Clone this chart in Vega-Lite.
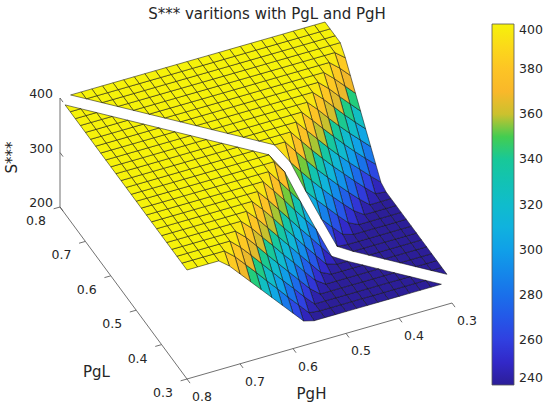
{
  "$schema": "https://vega.github.io/schema/vega-lite/v6.json",
  "width": 550,
  "height": 385,
  "autosize": {"type": "none"},
  "padding": {"top": 24, "left": 0, "right": 0, "bottom": 0},
  "background": "white",
  "title": {
    "text": "S*** varitions with PgL and PgH",
    "font": "DejaVu Sans",
    "fontSize": 15,
    "fontWeight": "normal",
    "color": "#262626",
    "anchor": "middle",
    "dx": -8,
    "offset": 0
  },
  "datasets": {
    "grid": [
      {"PgH":0.3,"PgL":0.3,"S":null},{"PgH":0.32,"PgL":0.3,"S":240},{"PgH":0.34,"PgL":0.3,"S":240},{"PgH":0.36,"PgL":0.3,"S":240},{"PgH":0.38,"PgL":0.3,"S":240},{"PgH":0.4,"PgL":0.3,"S":240},{"PgH":0.42,"PgL":0.3,"S":240},{"PgH":0.44,"PgL":0.3,"S":240},{"PgH":0.46,"PgL":0.3,"S":240},{"PgH":0.48,"PgL":0.3,"S":240},{"PgH":0.5,"PgL":0.3,"S":240},{"PgH":0.52,"PgL":0.3,"S":240},{"PgH":0.54,"PgL":0.3,"S":240},{"PgH":0.56,"PgL":0.3,"S":240},{"PgH":0.58,"PgL":0.3,"S":245},{"PgH":0.6,"PgL":0.3,"S":265},{"PgH":0.62,"PgL":0.3,"S":285},{"PgH":0.64,"PgL":0.3,"S":305},{"PgH":0.66,"PgL":0.3,"S":325},{"PgH":0.68,"PgL":0.3,"S":345},{"PgH":0.7,"PgL":0.3,"S":365},{"PgH":0.72,"PgL":0.3,"S":385},{"PgH":0.74,"PgL":0.3,"S":400},{"PgH":0.76,"PgL":0.3,"S":400},{"PgH":0.78,"PgL":0.3,"S":400},{"PgH":0.8,"PgL":0.3,"S":400},
      {"PgH":0.3,"PgL":0.32,"S":240},{"PgH":0.32,"PgL":0.32,"S":null},{"PgH":0.34,"PgL":0.32,"S":240},{"PgH":0.36,"PgL":0.32,"S":240},{"PgH":0.38,"PgL":0.32,"S":240},{"PgH":0.4,"PgL":0.32,"S":240},{"PgH":0.42,"PgL":0.32,"S":240},{"PgH":0.44,"PgL":0.32,"S":240},{"PgH":0.46,"PgL":0.32,"S":240},{"PgH":0.48,"PgL":0.32,"S":240},{"PgH":0.5,"PgL":0.32,"S":240},{"PgH":0.52,"PgL":0.32,"S":240},{"PgH":0.54,"PgL":0.32,"S":240},{"PgH":0.56,"PgL":0.32,"S":242},{"PgH":0.58,"PgL":0.32,"S":262},{"PgH":0.6,"PgL":0.32,"S":282},{"PgH":0.62,"PgL":0.32,"S":303},{"PgH":0.64,"PgL":0.32,"S":323},{"PgH":0.66,"PgL":0.32,"S":344},{"PgH":0.68,"PgL":0.32,"S":364},{"PgH":0.7,"PgL":0.32,"S":384},{"PgH":0.72,"PgL":0.32,"S":400},{"PgH":0.74,"PgL":0.32,"S":400},{"PgH":0.76,"PgL":0.32,"S":400},{"PgH":0.78,"PgL":0.32,"S":400},{"PgH":0.8,"PgL":0.32,"S":400},
      {"PgH":0.3,"PgL":0.34,"S":240},{"PgH":0.32,"PgL":0.34,"S":240},{"PgH":0.34,"PgL":0.34,"S":null},{"PgH":0.36,"PgL":0.34,"S":240},{"PgH":0.38,"PgL":0.34,"S":240},{"PgH":0.4,"PgL":0.34,"S":240},{"PgH":0.42,"PgL":0.34,"S":240},{"PgH":0.44,"PgL":0.34,"S":240},{"PgH":0.46,"PgL":0.34,"S":240},{"PgH":0.48,"PgL":0.34,"S":240},{"PgH":0.5,"PgL":0.34,"S":240},{"PgH":0.52,"PgL":0.34,"S":240},{"PgH":0.54,"PgL":0.34,"S":240},{"PgH":0.56,"PgL":0.34,"S":259},{"PgH":0.58,"PgL":0.34,"S":280},{"PgH":0.6,"PgL":0.34,"S":300},{"PgH":0.62,"PgL":0.34,"S":321},{"PgH":0.64,"PgL":0.34,"S":342},{"PgH":0.66,"PgL":0.34,"S":363},{"PgH":0.68,"PgL":0.34,"S":383},{"PgH":0.7,"PgL":0.34,"S":400},{"PgH":0.72,"PgL":0.34,"S":400},{"PgH":0.74,"PgL":0.34,"S":400},{"PgH":0.76,"PgL":0.34,"S":400},{"PgH":0.78,"PgL":0.34,"S":400},{"PgH":0.8,"PgL":0.34,"S":400},
      {"PgH":0.3,"PgL":0.36,"S":240},{"PgH":0.32,"PgL":0.36,"S":240},{"PgH":0.34,"PgL":0.36,"S":240},{"PgH":0.36,"PgL":0.36,"S":null},{"PgH":0.38,"PgL":0.36,"S":240},{"PgH":0.4,"PgL":0.36,"S":240},{"PgH":0.42,"PgL":0.36,"S":240},{"PgH":0.44,"PgL":0.36,"S":240},{"PgH":0.46,"PgL":0.36,"S":240},{"PgH":0.48,"PgL":0.36,"S":240},{"PgH":0.5,"PgL":0.36,"S":240},{"PgH":0.52,"PgL":0.36,"S":240},{"PgH":0.54,"PgL":0.36,"S":256},{"PgH":0.56,"PgL":0.36,"S":277},{"PgH":0.58,"PgL":0.36,"S":298},{"PgH":0.6,"PgL":0.36,"S":319},{"PgH":0.62,"PgL":0.36,"S":340},{"PgH":0.64,"PgL":0.36,"S":362},{"PgH":0.66,"PgL":0.36,"S":383},{"PgH":0.68,"PgL":0.36,"S":400},{"PgH":0.7,"PgL":0.36,"S":400},{"PgH":0.72,"PgL":0.36,"S":400},{"PgH":0.74,"PgL":0.36,"S":400},{"PgH":0.76,"PgL":0.36,"S":400},{"PgH":0.78,"PgL":0.36,"S":400},{"PgH":0.8,"PgL":0.36,"S":400},
      {"PgH":0.3,"PgL":0.38,"S":240},{"PgH":0.32,"PgL":0.38,"S":240},{"PgH":0.34,"PgL":0.38,"S":240},{"PgH":0.36,"PgL":0.38,"S":240},{"PgH":0.38,"PgL":0.38,"S":null},{"PgH":0.4,"PgL":0.38,"S":240},{"PgH":0.42,"PgL":0.38,"S":240},{"PgH":0.44,"PgL":0.38,"S":240},{"PgH":0.46,"PgL":0.38,"S":240},{"PgH":0.48,"PgL":0.38,"S":240},{"PgH":0.5,"PgL":0.38,"S":240},{"PgH":0.52,"PgL":0.38,"S":253},{"PgH":0.54,"PgL":0.38,"S":274},{"PgH":0.56,"PgL":0.38,"S":296},{"PgH":0.58,"PgL":0.38,"S":317},{"PgH":0.6,"PgL":0.38,"S":339},{"PgH":0.62,"PgL":0.38,"S":360},{"PgH":0.64,"PgL":0.38,"S":382},{"PgH":0.66,"PgL":0.38,"S":400},{"PgH":0.68,"PgL":0.38,"S":400},{"PgH":0.7,"PgL":0.38,"S":400},{"PgH":0.72,"PgL":0.38,"S":400},{"PgH":0.74,"PgL":0.38,"S":400},{"PgH":0.76,"PgL":0.38,"S":400},{"PgH":0.78,"PgL":0.38,"S":400},{"PgH":0.8,"PgL":0.38,"S":400},
      {"PgH":0.3,"PgL":0.4,"S":240},{"PgH":0.32,"PgL":0.4,"S":240},{"PgH":0.34,"PgL":0.4,"S":240},{"PgH":0.36,"PgL":0.4,"S":240},{"PgH":0.38,"PgL":0.4,"S":240},{"PgH":0.4,"PgL":0.4,"S":null},{"PgH":0.42,"PgL":0.4,"S":240},{"PgH":0.44,"PgL":0.4,"S":240},{"PgH":0.46,"PgL":0.4,"S":240},{"PgH":0.48,"PgL":0.4,"S":240},{"PgH":0.5,"PgL":0.4,"S":249},{"PgH":0.52,"PgL":0.4,"S":271},{"PgH":0.54,"PgL":0.4,"S":293},{"PgH":0.56,"PgL":0.4,"S":315},{"PgH":0.58,"PgL":0.4,"S":337},{"PgH":0.6,"PgL":0.4,"S":359},{"PgH":0.62,"PgL":0.4,"S":381},{"PgH":0.64,"PgL":0.4,"S":400},{"PgH":0.66,"PgL":0.4,"S":400},{"PgH":0.68,"PgL":0.4,"S":400},{"PgH":0.7,"PgL":0.4,"S":400},{"PgH":0.72,"PgL":0.4,"S":400},{"PgH":0.74,"PgL":0.4,"S":400},{"PgH":0.76,"PgL":0.4,"S":400},{"PgH":0.78,"PgL":0.4,"S":400},{"PgH":0.8,"PgL":0.4,"S":400},
      {"PgH":0.3,"PgL":0.42,"S":240},{"PgH":0.32,"PgL":0.42,"S":240},{"PgH":0.34,"PgL":0.42,"S":240},{"PgH":0.36,"PgL":0.42,"S":240},{"PgH":0.38,"PgL":0.42,"S":240},{"PgH":0.4,"PgL":0.42,"S":240},{"PgH":0.42,"PgL":0.42,"S":null},{"PgH":0.44,"PgL":0.42,"S":240},{"PgH":0.46,"PgL":0.42,"S":240},{"PgH":0.48,"PgL":0.42,"S":246},{"PgH":0.5,"PgL":0.42,"S":268},{"PgH":0.52,"PgL":0.42,"S":290},{"PgH":0.54,"PgL":0.42,"S":313},{"PgH":0.56,"PgL":0.42,"S":335},{"PgH":0.58,"PgL":0.42,"S":358},{"PgH":0.6,"PgL":0.42,"S":380},{"PgH":0.62,"PgL":0.42,"S":400},{"PgH":0.64,"PgL":0.42,"S":400},{"PgH":0.66,"PgL":0.42,"S":400},{"PgH":0.68,"PgL":0.42,"S":400},{"PgH":0.7,"PgL":0.42,"S":400},{"PgH":0.72,"PgL":0.42,"S":400},{"PgH":0.74,"PgL":0.42,"S":400},{"PgH":0.76,"PgL":0.42,"S":400},{"PgH":0.78,"PgL":0.42,"S":400},{"PgH":0.8,"PgL":0.42,"S":400},
      {"PgH":0.3,"PgL":0.44,"S":240},{"PgH":0.32,"PgL":0.44,"S":240},{"PgH":0.34,"PgL":0.44,"S":240},{"PgH":0.36,"PgL":0.44,"S":240},{"PgH":0.38,"PgL":0.44,"S":240},{"PgH":0.4,"PgL":0.44,"S":240},{"PgH":0.42,"PgL":0.44,"S":240},{"PgH":0.44,"PgL":0.44,"S":null},{"PgH":0.46,"PgL":0.44,"S":242},{"PgH":0.48,"PgL":0.44,"S":265},{"PgH":0.5,"PgL":0.44,"S":288},{"PgH":0.52,"PgL":0.44,"S":310},{"PgH":0.54,"PgL":0.44,"S":333},{"PgH":0.56,"PgL":0.44,"S":356},{"PgH":0.58,"PgL":0.44,"S":379},{"PgH":0.6,"PgL":0.44,"S":400},{"PgH":0.62,"PgL":0.44,"S":400},{"PgH":0.64,"PgL":0.44,"S":400},{"PgH":0.66,"PgL":0.44,"S":400},{"PgH":0.68,"PgL":0.44,"S":400},{"PgH":0.7,"PgL":0.44,"S":400},{"PgH":0.72,"PgL":0.44,"S":400},{"PgH":0.74,"PgL":0.44,"S":400},{"PgH":0.76,"PgL":0.44,"S":400},{"PgH":0.78,"PgL":0.44,"S":400},{"PgH":0.8,"PgL":0.44,"S":400},
      {"PgH":0.3,"PgL":0.46,"S":240},{"PgH":0.32,"PgL":0.46,"S":240},{"PgH":0.34,"PgL":0.46,"S":240},{"PgH":0.36,"PgL":0.46,"S":240},{"PgH":0.38,"PgL":0.46,"S":240},{"PgH":0.4,"PgL":0.46,"S":240},{"PgH":0.42,"PgL":0.46,"S":240},{"PgH":0.44,"PgL":0.46,"S":242},{"PgH":0.46,"PgL":0.46,"S":null},{"PgH":0.48,"PgL":0.46,"S":285},{"PgH":0.5,"PgL":0.46,"S":308},{"PgH":0.52,"PgL":0.46,"S":331},{"PgH":0.54,"PgL":0.46,"S":355},{"PgH":0.56,"PgL":0.46,"S":378},{"PgH":0.58,"PgL":0.46,"S":400},{"PgH":0.6,"PgL":0.46,"S":400},{"PgH":0.62,"PgL":0.46,"S":400},{"PgH":0.64,"PgL":0.46,"S":400},{"PgH":0.66,"PgL":0.46,"S":400},{"PgH":0.68,"PgL":0.46,"S":400},{"PgH":0.7,"PgL":0.46,"S":400},{"PgH":0.72,"PgL":0.46,"S":400},{"PgH":0.74,"PgL":0.46,"S":400},{"PgH":0.76,"PgL":0.46,"S":400},{"PgH":0.78,"PgL":0.46,"S":400},{"PgH":0.8,"PgL":0.46,"S":400},
      {"PgH":0.3,"PgL":0.48,"S":240},{"PgH":0.32,"PgL":0.48,"S":240},{"PgH":0.34,"PgL":0.48,"S":240},{"PgH":0.36,"PgL":0.48,"S":240},{"PgH":0.38,"PgL":0.48,"S":240},{"PgH":0.4,"PgL":0.48,"S":240},{"PgH":0.42,"PgL":0.48,"S":246},{"PgH":0.44,"PgL":0.48,"S":265},{"PgH":0.46,"PgL":0.48,"S":285},{"PgH":0.48,"PgL":0.48,"S":null},{"PgH":0.5,"PgL":0.48,"S":329},{"PgH":0.52,"PgL":0.48,"S":353},{"PgH":0.54,"PgL":0.48,"S":377},{"PgH":0.56,"PgL":0.48,"S":400},{"PgH":0.58,"PgL":0.48,"S":400},{"PgH":0.6,"PgL":0.48,"S":400},{"PgH":0.62,"PgL":0.48,"S":400},{"PgH":0.64,"PgL":0.48,"S":400},{"PgH":0.66,"PgL":0.48,"S":400},{"PgH":0.68,"PgL":0.48,"S":400},{"PgH":0.7,"PgL":0.48,"S":400},{"PgH":0.72,"PgL":0.48,"S":400},{"PgH":0.74,"PgL":0.48,"S":400},{"PgH":0.76,"PgL":0.48,"S":400},{"PgH":0.78,"PgL":0.48,"S":400},{"PgH":0.8,"PgL":0.48,"S":400},
      {"PgH":0.3,"PgL":0.5,"S":240},{"PgH":0.32,"PgL":0.5,"S":240},{"PgH":0.34,"PgL":0.5,"S":240},{"PgH":0.36,"PgL":0.5,"S":240},{"PgH":0.38,"PgL":0.5,"S":240},{"PgH":0.4,"PgL":0.5,"S":249},{"PgH":0.42,"PgL":0.5,"S":268},{"PgH":0.44,"PgL":0.5,"S":288},{"PgH":0.46,"PgL":0.5,"S":308},{"PgH":0.48,"PgL":0.5,"S":329},{"PgH":0.5,"PgL":0.5,"S":null},{"PgH":0.52,"PgL":0.5,"S":376},{"PgH":0.54,"PgL":0.5,"S":400},{"PgH":0.56,"PgL":0.5,"S":400},{"PgH":0.58,"PgL":0.5,"S":400},{"PgH":0.6,"PgL":0.5,"S":400},{"PgH":0.62,"PgL":0.5,"S":400},{"PgH":0.64,"PgL":0.5,"S":400},{"PgH":0.66,"PgL":0.5,"S":400},{"PgH":0.68,"PgL":0.5,"S":400},{"PgH":0.7,"PgL":0.5,"S":400},{"PgH":0.72,"PgL":0.5,"S":400},{"PgH":0.74,"PgL":0.5,"S":400},{"PgH":0.76,"PgL":0.5,"S":400},{"PgH":0.78,"PgL":0.5,"S":400},{"PgH":0.8,"PgL":0.5,"S":400},
      {"PgH":0.3,"PgL":0.52,"S":240},{"PgH":0.32,"PgL":0.52,"S":240},{"PgH":0.34,"PgL":0.52,"S":240},{"PgH":0.36,"PgL":0.52,"S":240},{"PgH":0.38,"PgL":0.52,"S":253},{"PgH":0.4,"PgL":0.52,"S":271},{"PgH":0.42,"PgL":0.52,"S":290},{"PgH":0.44,"PgL":0.52,"S":310},{"PgH":0.46,"PgL":0.52,"S":331},{"PgH":0.48,"PgL":0.52,"S":353},{"PgH":0.5,"PgL":0.52,"S":376},{"PgH":0.52,"PgL":0.52,"S":null},{"PgH":0.54,"PgL":0.52,"S":400},{"PgH":0.56,"PgL":0.52,"S":400},{"PgH":0.58,"PgL":0.52,"S":400},{"PgH":0.6,"PgL":0.52,"S":400},{"PgH":0.62,"PgL":0.52,"S":400},{"PgH":0.64,"PgL":0.52,"S":400},{"PgH":0.66,"PgL":0.52,"S":400},{"PgH":0.68,"PgL":0.52,"S":400},{"PgH":0.7,"PgL":0.52,"S":400},{"PgH":0.72,"PgL":0.52,"S":400},{"PgH":0.74,"PgL":0.52,"S":400},{"PgH":0.76,"PgL":0.52,"S":400},{"PgH":0.78,"PgL":0.52,"S":400},{"PgH":0.8,"PgL":0.52,"S":400},
      {"PgH":0.3,"PgL":0.54,"S":240},{"PgH":0.32,"PgL":0.54,"S":240},{"PgH":0.34,"PgL":0.54,"S":240},{"PgH":0.36,"PgL":0.54,"S":256},{"PgH":0.38,"PgL":0.54,"S":274},{"PgH":0.4,"PgL":0.54,"S":293},{"PgH":0.42,"PgL":0.54,"S":313},{"PgH":0.44,"PgL":0.54,"S":333},{"PgH":0.46,"PgL":0.54,"S":355},{"PgH":0.48,"PgL":0.54,"S":377},{"PgH":0.5,"PgL":0.54,"S":400},{"PgH":0.52,"PgL":0.54,"S":400},{"PgH":0.54,"PgL":0.54,"S":null},{"PgH":0.56,"PgL":0.54,"S":400},{"PgH":0.58,"PgL":0.54,"S":400},{"PgH":0.6,"PgL":0.54,"S":400},{"PgH":0.62,"PgL":0.54,"S":400},{"PgH":0.64,"PgL":0.54,"S":400},{"PgH":0.66,"PgL":0.54,"S":400},{"PgH":0.68,"PgL":0.54,"S":400},{"PgH":0.7,"PgL":0.54,"S":400},{"PgH":0.72,"PgL":0.54,"S":400},{"PgH":0.74,"PgL":0.54,"S":400},{"PgH":0.76,"PgL":0.54,"S":400},{"PgH":0.78,"PgL":0.54,"S":400},{"PgH":0.8,"PgL":0.54,"S":400},
      {"PgH":0.3,"PgL":0.56,"S":240},{"PgH":0.32,"PgL":0.56,"S":242},{"PgH":0.34,"PgL":0.56,"S":259},{"PgH":0.36,"PgL":0.56,"S":277},{"PgH":0.38,"PgL":0.56,"S":296},{"PgH":0.4,"PgL":0.56,"S":315},{"PgH":0.42,"PgL":0.56,"S":335},{"PgH":0.44,"PgL":0.56,"S":356},{"PgH":0.46,"PgL":0.56,"S":378},{"PgH":0.48,"PgL":0.56,"S":400},{"PgH":0.5,"PgL":0.56,"S":400},{"PgH":0.52,"PgL":0.56,"S":400},{"PgH":0.54,"PgL":0.56,"S":400},{"PgH":0.56,"PgL":0.56,"S":null},{"PgH":0.58,"PgL":0.56,"S":400},{"PgH":0.6,"PgL":0.56,"S":400},{"PgH":0.62,"PgL":0.56,"S":400},{"PgH":0.64,"PgL":0.56,"S":400},{"PgH":0.66,"PgL":0.56,"S":400},{"PgH":0.68,"PgL":0.56,"S":400},{"PgH":0.7,"PgL":0.56,"S":400},{"PgH":0.72,"PgL":0.56,"S":400},{"PgH":0.74,"PgL":0.56,"S":400},{"PgH":0.76,"PgL":0.56,"S":400},{"PgH":0.78,"PgL":0.56,"S":400},{"PgH":0.8,"PgL":0.56,"S":400},
      {"PgH":0.3,"PgL":0.58,"S":245},{"PgH":0.32,"PgL":0.58,"S":262},{"PgH":0.34,"PgL":0.58,"S":280},{"PgH":0.36,"PgL":0.58,"S":298},{"PgH":0.38,"PgL":0.58,"S":317},{"PgH":0.4,"PgL":0.58,"S":337},{"PgH":0.42,"PgL":0.58,"S":358},{"PgH":0.44,"PgL":0.58,"S":379},{"PgH":0.46,"PgL":0.58,"S":400},{"PgH":0.48,"PgL":0.58,"S":400},{"PgH":0.5,"PgL":0.58,"S":400},{"PgH":0.52,"PgL":0.58,"S":400},{"PgH":0.54,"PgL":0.58,"S":400},{"PgH":0.56,"PgL":0.58,"S":400},{"PgH":0.58,"PgL":0.58,"S":null},{"PgH":0.6,"PgL":0.58,"S":400},{"PgH":0.62,"PgL":0.58,"S":400},{"PgH":0.64,"PgL":0.58,"S":400},{"PgH":0.66,"PgL":0.58,"S":400},{"PgH":0.68,"PgL":0.58,"S":400},{"PgH":0.7,"PgL":0.58,"S":400},{"PgH":0.72,"PgL":0.58,"S":400},{"PgH":0.74,"PgL":0.58,"S":400},{"PgH":0.76,"PgL":0.58,"S":400},{"PgH":0.78,"PgL":0.58,"S":400},{"PgH":0.8,"PgL":0.58,"S":400},
      {"PgH":0.3,"PgL":0.6,"S":265},{"PgH":0.32,"PgL":0.6,"S":282},{"PgH":0.34,"PgL":0.6,"S":300},{"PgH":0.36,"PgL":0.6,"S":319},{"PgH":0.38,"PgL":0.6,"S":339},{"PgH":0.4,"PgL":0.6,"S":359},{"PgH":0.42,"PgL":0.6,"S":380},{"PgH":0.44,"PgL":0.6,"S":400},{"PgH":0.46,"PgL":0.6,"S":400},{"PgH":0.48,"PgL":0.6,"S":400},{"PgH":0.5,"PgL":0.6,"S":400},{"PgH":0.52,"PgL":0.6,"S":400},{"PgH":0.54,"PgL":0.6,"S":400},{"PgH":0.56,"PgL":0.6,"S":400},{"PgH":0.58,"PgL":0.6,"S":400},{"PgH":0.6,"PgL":0.6,"S":null},{"PgH":0.62,"PgL":0.6,"S":400},{"PgH":0.64,"PgL":0.6,"S":400},{"PgH":0.66,"PgL":0.6,"S":400},{"PgH":0.68,"PgL":0.6,"S":400},{"PgH":0.7,"PgL":0.6,"S":400},{"PgH":0.72,"PgL":0.6,"S":400},{"PgH":0.74,"PgL":0.6,"S":400},{"PgH":0.76,"PgL":0.6,"S":400},{"PgH":0.78,"PgL":0.6,"S":400},{"PgH":0.8,"PgL":0.6,"S":400},
      {"PgH":0.3,"PgL":0.62,"S":285},{"PgH":0.32,"PgL":0.62,"S":303},{"PgH":0.34,"PgL":0.62,"S":321},{"PgH":0.36,"PgL":0.62,"S":340},{"PgH":0.38,"PgL":0.62,"S":360},{"PgH":0.4,"PgL":0.62,"S":381},{"PgH":0.42,"PgL":0.62,"S":400},{"PgH":0.44,"PgL":0.62,"S":400},{"PgH":0.46,"PgL":0.62,"S":400},{"PgH":0.48,"PgL":0.62,"S":400},{"PgH":0.5,"PgL":0.62,"S":400},{"PgH":0.52,"PgL":0.62,"S":400},{"PgH":0.54,"PgL":0.62,"S":400},{"PgH":0.56,"PgL":0.62,"S":400},{"PgH":0.58,"PgL":0.62,"S":400},{"PgH":0.6,"PgL":0.62,"S":400},{"PgH":0.62,"PgL":0.62,"S":null},{"PgH":0.64,"PgL":0.62,"S":400},{"PgH":0.66,"PgL":0.62,"S":400},{"PgH":0.68,"PgL":0.62,"S":400},{"PgH":0.7,"PgL":0.62,"S":400},{"PgH":0.72,"PgL":0.62,"S":400},{"PgH":0.74,"PgL":0.62,"S":400},{"PgH":0.76,"PgL":0.62,"S":400},{"PgH":0.78,"PgL":0.62,"S":400},{"PgH":0.8,"PgL":0.62,"S":400},
      {"PgH":0.3,"PgL":0.64,"S":305},{"PgH":0.32,"PgL":0.64,"S":323},{"PgH":0.34,"PgL":0.64,"S":342},{"PgH":0.36,"PgL":0.64,"S":362},{"PgH":0.38,"PgL":0.64,"S":382},{"PgH":0.4,"PgL":0.64,"S":400},{"PgH":0.42,"PgL":0.64,"S":400},{"PgH":0.44,"PgL":0.64,"S":400},{"PgH":0.46,"PgL":0.64,"S":400},{"PgH":0.48,"PgL":0.64,"S":400},{"PgH":0.5,"PgL":0.64,"S":400},{"PgH":0.52,"PgL":0.64,"S":400},{"PgH":0.54,"PgL":0.64,"S":400},{"PgH":0.56,"PgL":0.64,"S":400},{"PgH":0.58,"PgL":0.64,"S":400},{"PgH":0.6,"PgL":0.64,"S":400},{"PgH":0.62,"PgL":0.64,"S":400},{"PgH":0.64,"PgL":0.64,"S":null},{"PgH":0.66,"PgL":0.64,"S":400},{"PgH":0.68,"PgL":0.64,"S":400},{"PgH":0.7,"PgL":0.64,"S":400},{"PgH":0.72,"PgL":0.64,"S":400},{"PgH":0.74,"PgL":0.64,"S":400},{"PgH":0.76,"PgL":0.64,"S":400},{"PgH":0.78,"PgL":0.64,"S":400},{"PgH":0.8,"PgL":0.64,"S":400},
      {"PgH":0.3,"PgL":0.66,"S":325},{"PgH":0.32,"PgL":0.66,"S":344},{"PgH":0.34,"PgL":0.66,"S":363},{"PgH":0.36,"PgL":0.66,"S":383},{"PgH":0.38,"PgL":0.66,"S":400},{"PgH":0.4,"PgL":0.66,"S":400},{"PgH":0.42,"PgL":0.66,"S":400},{"PgH":0.44,"PgL":0.66,"S":400},{"PgH":0.46,"PgL":0.66,"S":400},{"PgH":0.48,"PgL":0.66,"S":400},{"PgH":0.5,"PgL":0.66,"S":400},{"PgH":0.52,"PgL":0.66,"S":400},{"PgH":0.54,"PgL":0.66,"S":400},{"PgH":0.56,"PgL":0.66,"S":400},{"PgH":0.58,"PgL":0.66,"S":400},{"PgH":0.6,"PgL":0.66,"S":400},{"PgH":0.62,"PgL":0.66,"S":400},{"PgH":0.64,"PgL":0.66,"S":400},{"PgH":0.66,"PgL":0.66,"S":null},{"PgH":0.68,"PgL":0.66,"S":400},{"PgH":0.7,"PgL":0.66,"S":400},{"PgH":0.72,"PgL":0.66,"S":400},{"PgH":0.74,"PgL":0.66,"S":400},{"PgH":0.76,"PgL":0.66,"S":400},{"PgH":0.78,"PgL":0.66,"S":400},{"PgH":0.8,"PgL":0.66,"S":400},
      {"PgH":0.3,"PgL":0.68,"S":345},{"PgH":0.32,"PgL":0.68,"S":364},{"PgH":0.34,"PgL":0.68,"S":383},{"PgH":0.36,"PgL":0.68,"S":400},{"PgH":0.38,"PgL":0.68,"S":400},{"PgH":0.4,"PgL":0.68,"S":400},{"PgH":0.42,"PgL":0.68,"S":400},{"PgH":0.44,"PgL":0.68,"S":400},{"PgH":0.46,"PgL":0.68,"S":400},{"PgH":0.48,"PgL":0.68,"S":400},{"PgH":0.5,"PgL":0.68,"S":400},{"PgH":0.52,"PgL":0.68,"S":400},{"PgH":0.54,"PgL":0.68,"S":400},{"PgH":0.56,"PgL":0.68,"S":400},{"PgH":0.58,"PgL":0.68,"S":400},{"PgH":0.6,"PgL":0.68,"S":400},{"PgH":0.62,"PgL":0.68,"S":400},{"PgH":0.64,"PgL":0.68,"S":400},{"PgH":0.66,"PgL":0.68,"S":400},{"PgH":0.68,"PgL":0.68,"S":null},{"PgH":0.7,"PgL":0.68,"S":400},{"PgH":0.72,"PgL":0.68,"S":400},{"PgH":0.74,"PgL":0.68,"S":400},{"PgH":0.76,"PgL":0.68,"S":400},{"PgH":0.78,"PgL":0.68,"S":400},{"PgH":0.8,"PgL":0.68,"S":400},
      {"PgH":0.3,"PgL":0.7,"S":365},{"PgH":0.32,"PgL":0.7,"S":384},{"PgH":0.34,"PgL":0.7,"S":400},{"PgH":0.36,"PgL":0.7,"S":400},{"PgH":0.38,"PgL":0.7,"S":400},{"PgH":0.4,"PgL":0.7,"S":400},{"PgH":0.42,"PgL":0.7,"S":400},{"PgH":0.44,"PgL":0.7,"S":400},{"PgH":0.46,"PgL":0.7,"S":400},{"PgH":0.48,"PgL":0.7,"S":400},{"PgH":0.5,"PgL":0.7,"S":400},{"PgH":0.52,"PgL":0.7,"S":400},{"PgH":0.54,"PgL":0.7,"S":400},{"PgH":0.56,"PgL":0.7,"S":400},{"PgH":0.58,"PgL":0.7,"S":400},{"PgH":0.6,"PgL":0.7,"S":400},{"PgH":0.62,"PgL":0.7,"S":400},{"PgH":0.64,"PgL":0.7,"S":400},{"PgH":0.66,"PgL":0.7,"S":400},{"PgH":0.68,"PgL":0.7,"S":400},{"PgH":0.7,"PgL":0.7,"S":null},{"PgH":0.72,"PgL":0.7,"S":400},{"PgH":0.74,"PgL":0.7,"S":400},{"PgH":0.76,"PgL":0.7,"S":400},{"PgH":0.78,"PgL":0.7,"S":400},{"PgH":0.8,"PgL":0.7,"S":400},
      {"PgH":0.3,"PgL":0.72,"S":385},{"PgH":0.32,"PgL":0.72,"S":400},{"PgH":0.34,"PgL":0.72,"S":400},{"PgH":0.36,"PgL":0.72,"S":400},{"PgH":0.38,"PgL":0.72,"S":400},{"PgH":0.4,"PgL":0.72,"S":400},{"PgH":0.42,"PgL":0.72,"S":400},{"PgH":0.44,"PgL":0.72,"S":400},{"PgH":0.46,"PgL":0.72,"S":400},{"PgH":0.48,"PgL":0.72,"S":400},{"PgH":0.5,"PgL":0.72,"S":400},{"PgH":0.52,"PgL":0.72,"S":400},{"PgH":0.54,"PgL":0.72,"S":400},{"PgH":0.56,"PgL":0.72,"S":400},{"PgH":0.58,"PgL":0.72,"S":400},{"PgH":0.6,"PgL":0.72,"S":400},{"PgH":0.62,"PgL":0.72,"S":400},{"PgH":0.64,"PgL":0.72,"S":400},{"PgH":0.66,"PgL":0.72,"S":400},{"PgH":0.68,"PgL":0.72,"S":400},{"PgH":0.7,"PgL":0.72,"S":400},{"PgH":0.72,"PgL":0.72,"S":null},{"PgH":0.74,"PgL":0.72,"S":400},{"PgH":0.76,"PgL":0.72,"S":400},{"PgH":0.78,"PgL":0.72,"S":400},{"PgH":0.8,"PgL":0.72,"S":400},
      {"PgH":0.3,"PgL":0.74,"S":400},{"PgH":0.32,"PgL":0.74,"S":400},{"PgH":0.34,"PgL":0.74,"S":400},{"PgH":0.36,"PgL":0.74,"S":400},{"PgH":0.38,"PgL":0.74,"S":400},{"PgH":0.4,"PgL":0.74,"S":400},{"PgH":0.42,"PgL":0.74,"S":400},{"PgH":0.44,"PgL":0.74,"S":400},{"PgH":0.46,"PgL":0.74,"S":400},{"PgH":0.48,"PgL":0.74,"S":400},{"PgH":0.5,"PgL":0.74,"S":400},{"PgH":0.52,"PgL":0.74,"S":400},{"PgH":0.54,"PgL":0.74,"S":400},{"PgH":0.56,"PgL":0.74,"S":400},{"PgH":0.58,"PgL":0.74,"S":400},{"PgH":0.6,"PgL":0.74,"S":400},{"PgH":0.62,"PgL":0.74,"S":400},{"PgH":0.64,"PgL":0.74,"S":400},{"PgH":0.66,"PgL":0.74,"S":400},{"PgH":0.68,"PgL":0.74,"S":400},{"PgH":0.7,"PgL":0.74,"S":400},{"PgH":0.72,"PgL":0.74,"S":400},{"PgH":0.74,"PgL":0.74,"S":null},{"PgH":0.76,"PgL":0.74,"S":400},{"PgH":0.78,"PgL":0.74,"S":400},{"PgH":0.8,"PgL":0.74,"S":400},
      {"PgH":0.3,"PgL":0.76,"S":400},{"PgH":0.32,"PgL":0.76,"S":400},{"PgH":0.34,"PgL":0.76,"S":400},{"PgH":0.36,"PgL":0.76,"S":400},{"PgH":0.38,"PgL":0.76,"S":400},{"PgH":0.4,"PgL":0.76,"S":400},{"PgH":0.42,"PgL":0.76,"S":400},{"PgH":0.44,"PgL":0.76,"S":400},{"PgH":0.46,"PgL":0.76,"S":400},{"PgH":0.48,"PgL":0.76,"S":400},{"PgH":0.5,"PgL":0.76,"S":400},{"PgH":0.52,"PgL":0.76,"S":400},{"PgH":0.54,"PgL":0.76,"S":400},{"PgH":0.56,"PgL":0.76,"S":400},{"PgH":0.58,"PgL":0.76,"S":400},{"PgH":0.6,"PgL":0.76,"S":400},{"PgH":0.62,"PgL":0.76,"S":400},{"PgH":0.64,"PgL":0.76,"S":400},{"PgH":0.66,"PgL":0.76,"S":400},{"PgH":0.68,"PgL":0.76,"S":400},{"PgH":0.7,"PgL":0.76,"S":400},{"PgH":0.72,"PgL":0.76,"S":400},{"PgH":0.74,"PgL":0.76,"S":400},{"PgH":0.76,"PgL":0.76,"S":null},{"PgH":0.78,"PgL":0.76,"S":400},{"PgH":0.8,"PgL":0.76,"S":400},
      {"PgH":0.3,"PgL":0.78,"S":400},{"PgH":0.32,"PgL":0.78,"S":400},{"PgH":0.34,"PgL":0.78,"S":400},{"PgH":0.36,"PgL":0.78,"S":400},{"PgH":0.38,"PgL":0.78,"S":400},{"PgH":0.4,"PgL":0.78,"S":400},{"PgH":0.42,"PgL":0.78,"S":400},{"PgH":0.44,"PgL":0.78,"S":400},{"PgH":0.46,"PgL":0.78,"S":400},{"PgH":0.48,"PgL":0.78,"S":400},{"PgH":0.5,"PgL":0.78,"S":400},{"PgH":0.52,"PgL":0.78,"S":400},{"PgH":0.54,"PgL":0.78,"S":400},{"PgH":0.56,"PgL":0.78,"S":400},{"PgH":0.58,"PgL":0.78,"S":400},{"PgH":0.6,"PgL":0.78,"S":400},{"PgH":0.62,"PgL":0.78,"S":400},{"PgH":0.64,"PgL":0.78,"S":400},{"PgH":0.66,"PgL":0.78,"S":400},{"PgH":0.68,"PgL":0.78,"S":400},{"PgH":0.7,"PgL":0.78,"S":400},{"PgH":0.72,"PgL":0.78,"S":400},{"PgH":0.74,"PgL":0.78,"S":400},{"PgH":0.76,"PgL":0.78,"S":400},{"PgH":0.78,"PgL":0.78,"S":null},{"PgH":0.8,"PgL":0.78,"S":400},
      {"PgH":0.3,"PgL":0.8,"S":400},{"PgH":0.32,"PgL":0.8,"S":400},{"PgH":0.34,"PgL":0.8,"S":400},{"PgH":0.36,"PgL":0.8,"S":400},{"PgH":0.38,"PgL":0.8,"S":400},{"PgH":0.4,"PgL":0.8,"S":400},{"PgH":0.42,"PgL":0.8,"S":400},{"PgH":0.44,"PgL":0.8,"S":400},{"PgH":0.46,"PgL":0.8,"S":400},{"PgH":0.48,"PgL":0.8,"S":400},{"PgH":0.5,"PgL":0.8,"S":400},{"PgH":0.52,"PgL":0.8,"S":400},{"PgH":0.54,"PgL":0.8,"S":400},{"PgH":0.56,"PgL":0.8,"S":400},{"PgH":0.58,"PgL":0.8,"S":400},{"PgH":0.6,"PgL":0.8,"S":400},{"PgH":0.62,"PgL":0.8,"S":400},{"PgH":0.64,"PgL":0.8,"S":400},{"PgH":0.66,"PgL":0.8,"S":400},{"PgH":0.68,"PgL":0.8,"S":400},{"PgH":0.7,"PgL":0.8,"S":400},{"PgH":0.72,"PgL":0.8,"S":400},{"PgH":0.74,"PgL":0.8,"S":400},{"PgH":0.76,"PgL":0.8,"S":400},{"PgH":0.78,"PgL":0.8,"S":400},{"PgH":0.8,"PgL":0.8,"S":null}
    ],
    "ticks": [
      {"axis": "PgH", "value": 0.3}, {"axis": "PgH", "value": 0.4}, {"axis": "PgH", "value": 0.5},
      {"axis": "PgH", "value": 0.6}, {"axis": "PgH", "value": 0.7}, {"axis": "PgH", "value": 0.8},
      {"axis": "PgL", "value": 0.3}, {"axis": "PgL", "value": 0.4}, {"axis": "PgL", "value": 0.5},
      {"axis": "PgL", "value": 0.6}, {"axis": "PgL", "value": 0.7}, {"axis": "PgL", "value": 0.8},
      {"axis": "S", "value": 200}, {"axis": "S", "value": 300}, {"axis": "S", "value": 400}
    ]
  },
  "layer": [
    {
      "data": {"name": "grid"},
      "transform": [
        {
          "window": [
            {"op": "lead", "field": "S", "as": "S10"},
            {"op": "lead", "field": "PgH", "as": "H1"}
          ],
          "groupby": ["PgL"],
          "sort": [{"field": "PgH", "order": "ascending"}]
        },
        {
          "window": [
            {"op": "lead", "field": "S", "as": "S01"},
            {"op": "lead", "field": "S10", "as": "S11"},
            {"op": "lead", "field": "PgL", "as": "L1"}
          ],
          "groupby": ["PgH"],
          "sort": [{"field": "PgL", "order": "ascending"}]
        },
        {"filter": "isValid(datum.H1) && isValid(datum.L1)"},
        {"calculate": "(isValid(datum.S) ? 1 : 0) + (isValid(datum.S10) ? 1 : 0) + (isValid(datum.S01) ? 1 : 0) + (isValid(datum.S11) ? 1 : 0)", "as": "nv"},
        {"filter": "datum.nv >= 3"},
        {"calculate": "((datum.S || 0) + (datum.S10 || 0) + (datum.S01 || 0) + (datum.S11 || 0)) / datum.nv", "as": "Sface"},
        {"calculate": "datum.PgH + '_' + datum.PgL", "as": "cell"},
        {"calculate": "[datum.PgH, datum.H1, datum.H1, datum.PgH, datum.PgH]", "as": "vh"},
        {"calculate": "[datum.PgL, datum.PgL, datum.L1, datum.L1, datum.PgL]", "as": "vl"},
        {"calculate": "[datum.S, datum.S10, datum.S11, datum.S01, datum.S]", "as": "vs"},
        {"calculate": "[0, 1, 2, 3, 4]", "as": "vi"},
        {"flatten": ["vh", "vl", "vs", "vi"]},
        {"filter": "isValid(datum.vs)"},
        {"calculate": "-530 * (datum.vh - 0.3) - 254 * (datum.vl - 0.3)", "as": "u"},
        {"calculate": "-152 * (datum.vh - 0.3) + 344 * (datum.vl - 0.3) + 0.545 * (datum.vs - 200)", "as": "v"}
      ],
      "mark": {"type": "line", "stroke": "#111111", "strokeWidth": 0.6, "strokeOpacity": 0.9, "strokeJoin": "round"},
      "encoding": {
        "x": {"field": "u", "type": "quantitative", "scale": {"domain": [-452, 98], "nice": false, "zero": false}, "axis": null},
        "y": {"field": "v", "type": "quantitative", "scale": {"domain": [-106, 279], "nice": false, "zero": false}, "axis": null},
        "detail": {"field": "cell", "type": "nominal"},
        "order": {"field": "vi", "type": "quantitative"},
        "fill": {
          "field": "Sface",
          "type": "quantitative",
          "scale": {
            "domain": [240, 250, 260, 270, 280, 290, 300, 310, 320, 330, 340, 346, 352, 358, 364, 372, 385, 400],
            "range": ["#2c1e98", "#3228c8", "#3040e0", "#2458e8", "#1a70ea", "#1488ea", "#10a0e8", "#10b2de", "#10bccc", "#12c2b4", "#18c898", "#26ce72", "#52cc40", "#b8c530", "#f0b82a", "#fcb82a", "#fdcc22", "#f6f20a"],
            "interpolate": "rgb"
          },
          "legend": {
            "orient": "none",
            "legendX": 492,
            "legendY": 0,
            "direction": "vertical",
            "title": null,
            "gradientLength": 361,
            "gradientThickness": 22,
            "gradientStrokeColor": "#555555",
            "gradientStrokeWidth": 0.8,
            "values": [240, 260, 280, 300, 320, 340, 360, 380, 400],
            "labelOverlap": false,
            "labelFont": "DejaVu Sans",
            "labelFontSize": 12.5,
            "labelColor": "#262626",
            "labelOffset": 5
          }
        }
      }
    },
    {
      "data": {"name": "ticks"},
      "transform": [
        {"calculate": "datum.axis === 'PgH' ? datum.value : 0.8", "as": "th"},
        {"calculate": "datum.axis === 'PgL' ? datum.value : (datum.axis === 'PgH' ? 0.3 : 0.8)", "as": "tl"},
        {"calculate": "datum.axis === 'S' ? datum.value : 200", "as": "ts"},
        {"calculate": "datum.axis === 'PgL' ? datum.th + 0.012 : datum.th", "as": "th2"},
        {"calculate": "datum.axis === 'PgL' ? datum.tl : datum.tl - 0.012", "as": "tl2"},
        {"calculate": "-530 * (datum.th - 0.3) - 254 * (datum.tl - 0.3)", "as": "u"},
        {"calculate": "-152 * (datum.th - 0.3) + 344 * (datum.tl - 0.3) + 0.545 * (datum.ts - 200)", "as": "v"},
        {"calculate": "-530 * (datum.th2 - 0.3) - 254 * (datum.tl2 - 0.3)", "as": "u2"},
        {"calculate": "-152 * (datum.th2 - 0.3) + 344 * (datum.tl2 - 0.3) + 0.545 * (datum.ts - 200)", "as": "v2"},
        {"calculate": "datum.axis === 'S' ? format(datum.value, 'd') : format(datum.value, '.1f')", "as": "label"}
      ],
      "encoding": {
        "x": {"field": "u", "type": "quantitative", "scale": {"domain": [-452, 98], "nice": false, "zero": false}, "axis": null},
        "y": {"field": "v", "type": "quantitative", "scale": {"domain": [-106, 279], "nice": false, "zero": false}, "axis": null}
      },
      "layer": [
        {
          "mark": {"type": "line", "stroke": "#4d4d4d", "strokeWidth": 0.8},
          "encoding": {
            "detail": {"field": "axis", "type": "nominal"},
            "order": {"field": "value", "type": "quantitative"}
          }
        },
        {
          "mark": {"type": "rule", "stroke": "#4d4d4d", "strokeWidth": 0.8},
          "encoding": {
            "x2": {"field": "u2"},
            "y2": {"field": "v2"}
          }
        },
        {
          "transform": [{"filter": "datum.axis === 'PgH'"}],
          "mark": {"type": "text", "font": "DejaVu Sans", "fontSize": 12.5, "color": "#262626", "align": "center", "baseline": "middle", "dx": 15, "dy": 18},
          "encoding": {"text": {"field": "label"}}
        },
        {
          "transform": [{"filter": "datum.axis === 'PgL'"}],
          "mark": {"type": "text", "font": "DejaVu Sans", "fontSize": 12.5, "color": "#262626", "align": "center", "baseline": "middle", "dx": -24, "dy": 14},
          "encoding": {"text": {"field": "label"}}
        },
        {
          "transform": [{"filter": "datum.axis === 'S'"}],
          "mark": {"type": "text", "font": "DejaVu Sans", "fontSize": 12.5, "color": "#262626", "align": "right", "baseline": "middle", "dx": -7, "dy": -4},
          "encoding": {"text": {"field": "label"}}
        },
        {
          "transform": [
            {"aggregate": [{"op": "mean", "field": "u", "as": "u"}, {"op": "mean", "field": "v", "as": "v"}], "groupby": ["axis"]},
            {"filter": "datum.axis === 'PgH'"}
          ],
          "mark": {"type": "text", "font": "DejaVu Sans", "fontSize": 15, "color": "#262626", "align": "center", "baseline": "middle", "dx": -8, "dy": 53},
          "encoding": {"text": {"field": "axis"}}
        },
        {
          "transform": [
            {"aggregate": [{"op": "mean", "field": "u", "as": "u"}, {"op": "mean", "field": "v", "as": "v"}], "groupby": ["axis"]},
            {"filter": "datum.axis === 'PgL'"}
          ],
          "mark": {"type": "text", "font": "DejaVu Sans", "fontSize": 15, "color": "#262626", "align": "center", "baseline": "middle", "dx": -27, "dy": 79},
          "encoding": {"text": {"field": "axis"}}
        },
        {
          "transform": [
            {"aggregate": [{"op": "mean", "field": "u", "as": "u"}, {"op": "mean", "field": "v", "as": "v"}], "groupby": ["axis"]},
            {"filter": "datum.axis === 'S'"},
            {"calculate": "'S***'", "as": "name"}
          ],
          "mark": {"type": "text", "font": "DejaVu Sans", "fontSize": 15, "color": "#262626", "align": "center", "baseline": "middle", "angle": 270, "dx": -5, "dy": -48},
          "encoding": {"text": {"field": "name"}}
        }
      ]
    }
  ],
  "config": {
    "view": {"stroke": null}
  }
}
